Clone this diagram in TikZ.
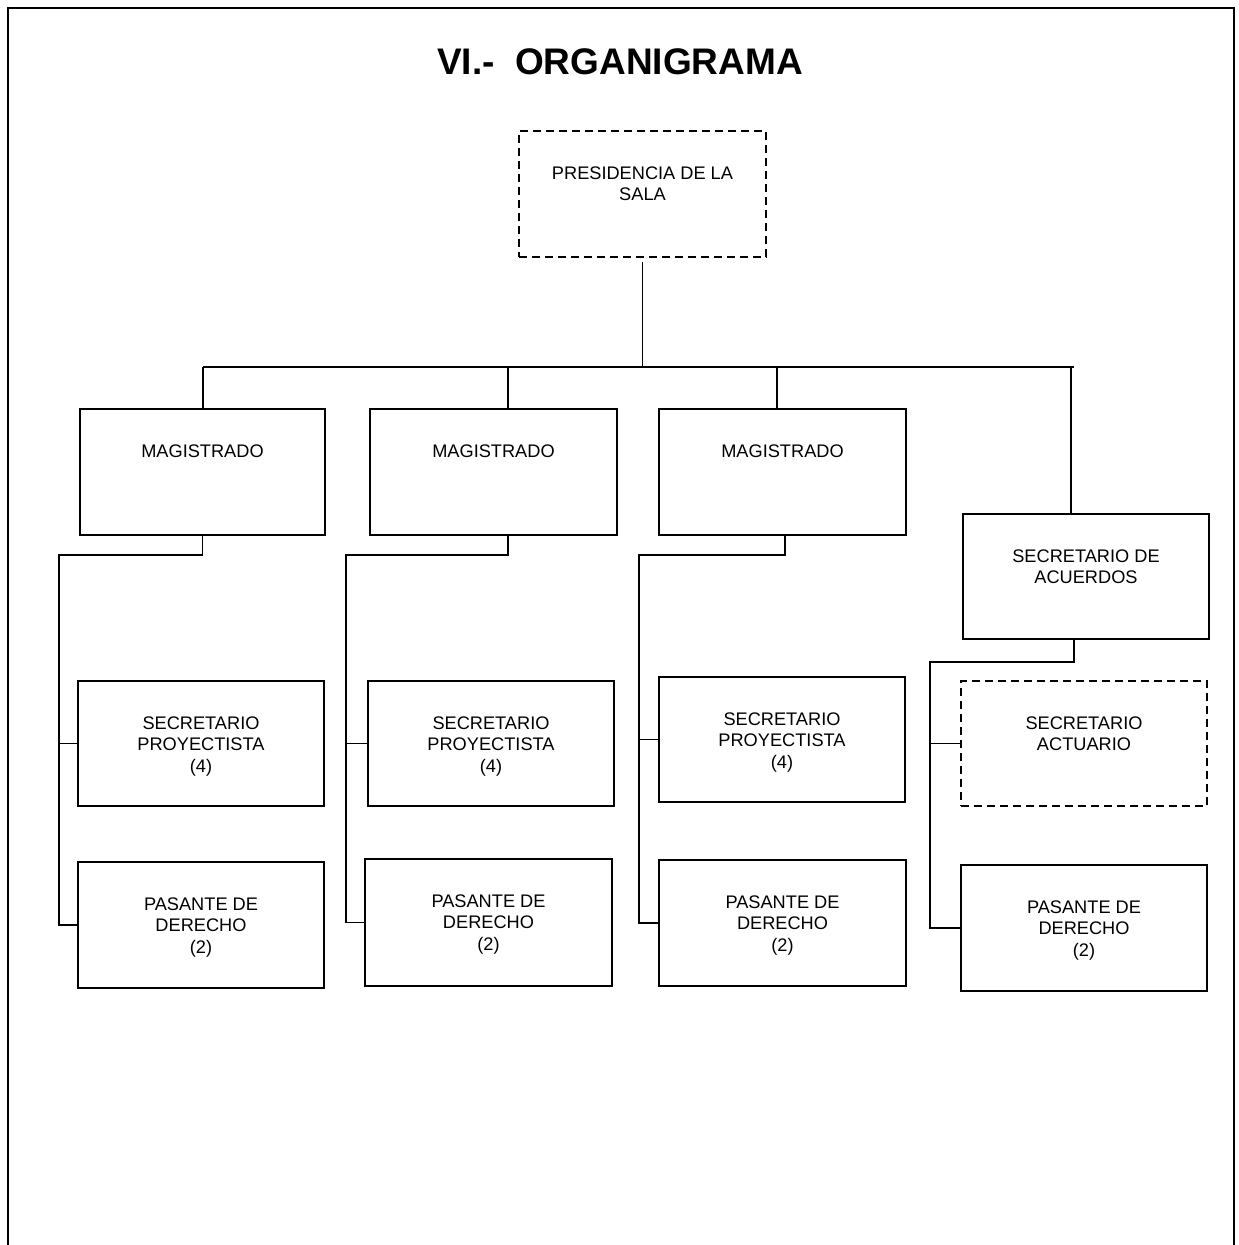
\documentclass[tikz,border=0pt]{standalone}
\usepackage{fontspec}
\setmainfont{Liberation Sans}
\newcommand{\boxtxt}[3]{\parbox[c][#2][t]{#1}{\centering\vspace*{35.5pt}#3\par}}
\begin{document}
\begin{tikzpicture}[x=1pt,y=-1pt,
  box/.style={draw,line width=1.9pt,inner sep=0pt,font=\fontsize{18.2}{21.5}\selectfont},
  dbox/.style={box,dash pattern=on 8pt off 5pt},
  conn/.style={line width=1.9pt},
  frame/.style={line width=1.6pt}]
\useasboundingbox (0,0) rectangle (1239,1245);
\draw[frame] (8,1245) -- (8,8) -- (1234,8) -- (1234,1245);

\node[font=\fontsize{37}{44}\selectfont\bfseries] (title) at (620,62) {VI.-\ \ ORGANIGRAMA};

\node[dbox] (pres) at (642.5,194) {\boxtxt{247pt}{126pt}{PRESIDENCIA DE LA\\SALA}};

\node[box] (mag1) at (202.5,472) {\boxtxt{245pt}{126pt}{MAGISTRADO}};
\node[box] (mag2) at (493.5,472) {\boxtxt{247pt}{126pt}{MAGISTRADO}};
\node[box] (mag3) at (782.5,472) {\boxtxt{247pt}{126pt}{MAGISTRADO}};
\node[box] (secac) at (1086,576.5) {\boxtxt{246pt}{125pt}{SECRETARIO DE\\ACUERDOS}};

\node[box] (sp1) at (201,743.5) {\boxtxt{246pt}{125pt}{SECRETARIO\\PROYECTISTA\\(4)}};
\node[box] (pd1) at (201,925) {\boxtxt{246pt}{126pt}{PASANTE DE\\DERECHO\\(2)}};
\node[box] (sp2) at (491,743.5) {\boxtxt{246pt}{125pt}{SECRETARIO\\PROYECTISTA\\(4)}};
\node[box] (pd2) at (488.5,922.5) {\boxtxt{247pt}{127pt}{PASANTE DE\\DERECHO\\(2)}};
\node[box] (sp3) at (782,739.5) {\boxtxt{246pt}{125pt}{SECRETARIO\\PROYECTISTA\\(4)}};
\node[box] (pd3) at (782.5,923) {\boxtxt{247pt}{126pt}{PASANTE DE\\DERECHO\\(2)}};
\node[dbox] (act) at (1084,743.5) {\boxtxt{246pt}{125pt}{SECRETARIO\\ACTUARIO}};
\node[box] (pd4) at (1084,928) {\boxtxt{246pt}{126pt}{PASANTE DE\\DERECHO\\(2)}};

% top bar
\coordinate (bl) at (203,367);
\coordinate (br) at (1074,367);
\coordinate (d2) at (508,367);
\coordinate (d3) at (777,367);
\coordinate (d4) at (1071,367);
\draw[conn] (bl) -- (br);
\draw[conn] ([yshift=-4pt]pres.south) -- (pres.south |- bl);
\draw[conn] (bl) -- (bl |- mag1.north);
\draw[conn] (d2) -- (d2 |- mag2.north);
\draw[conn] (d3) -- (d3 |- mag3.north);
\draw[conn] (d4) -- (d4 |- secac.north);

% column 1
\coordinate (c1) at (59,555);
\draw[conn] (mag1.south) |- (c1) |- (pd1.west);
\draw[conn] (c1 |- sp1.west) -- (sp1.west);
% column 2
\coordinate (c2) at (346,555);
\draw[conn] ([xshift=14.5pt]mag2.south) |- (c2) |- (pd2.west);
\draw[conn] (c2 |- sp2.west) -- (sp2.west);
% column 3
\coordinate (c3) at (639,555);
\draw[conn] ([xshift=2.5pt]mag3.south) |- (c3) |- (pd3.west);
\draw[conn] (c3 |- sp3.west) -- (sp3.west);
% column 4
\coordinate (c4) at (930,662);
\draw[conn] ([xshift=-12pt]secac.south) |- (c4) |- (pd4.west);
\draw[conn] (c4 |- act.west) -- (act.west);
\end{tikzpicture}
\end{document}
